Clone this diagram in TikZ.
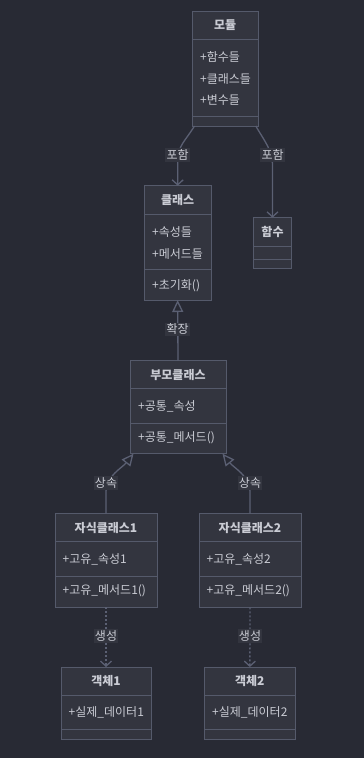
\documentclass[tikz,border=0pt]{standalone}
\usepackage{fontspec}
\setmainfont{Noto Sans CJK KR}
\usetikzlibrary{arrows.meta,calc}
\definecolor{bg}{HTML}{282A34}
\definecolor{boxfill}{HTML}{33353F}
\definecolor{boxline}{HTML}{555A6B}
\definecolor{txt}{HTML}{CACCD4}
\definecolor{edgec}{HTML}{5B6073}
\definecolor{lblbg}{HTML}{33353F}
\tikzset{
  x=1pt,y=-1pt,
  box/.style={draw=boxline,fill=boxfill,line width=1pt,rectangle,inner sep=0pt,outer sep=0pt},
  sepline/.style={draw=boxline,line width=1pt},
  ttl/.style={text=txt,font=\fontsize{12}{14}\selectfont\bfseries,inner sep=0pt,anchor=center},
  mem/.style={text=txt,font=\fontsize{12}{14}\selectfont,inner sep=0pt,anchor=west},
  lbl/.style={text=txt,font=\fontsize{12}{14}\selectfont,fill=lblbg,inner sep=1.2pt,anchor=center},
  edgeline/.style={draw=edgec,line width=1.3pt},
  assoc/.style={edgeline,-{Straight Barb[length=5pt,width=11pt,line width=1.3pt]}},
  inherit/.style={edgeline,-{Triangle[open,length=12pt,width=11pt,line width=1.3pt,fill=bg]}},
  dep/.style={edgeline,dash pattern=on 2pt off 2pt,-{Straight Barb[length=5pt,width=11pt,line width=1.3pt]}},
}
% name, x1, y1, x2, y2, sep1, sep2
\newcommand\classbox[7]{%
  \node[box,minimum width={(#4)-(#2)},minimum height={(#5)-(#3)}] (#1) at ({((#2)+(#4))/2},{((#3)+(#5))/2}) {};
  \draw[sepline] (#2,#6) -- (#4,#6);
  \draw[sepline] (#2,#7) -- (#4,#7);
}
\begin{document}
\begin{tikzpicture}
\fill[bg] (0,0) rectangle (364,758);
\useasboundingbox (0,0) rectangle (364,758);

% boxes
\classbox{mod}{192}{11.7}{258.3}{126}{39.3}{116.3}
\node[ttl] (modt) at (225.2,25.5) {모듈};
\node[mem] (moda1) at (200,57) {+함수들};
\node[mem] (moda2) at (200,79) {+클래스들};
\node[mem] (moda3) at (200,100) {+변수들};

\classbox{cls}{144.3}{185.7}{211}{300}{214.3}{269.3}
\node[ttl] (clst) at (177.7,200) {클래스};
\node[mem] (clsa1) at (152,232) {+속성들};
\node[mem] (clsa2) at (152,254) {+메서드들};
\node[mem] (clsm1) at (152,285.5) {+초기화()};

\classbox{fn}{253.3}{217.7}{291.7}{268.7}{246}{259}
\node[ttl] (fnt) at (272.5,232) {함수};

\classbox{par}{130}{360.7}{226}{453.7}{388.3}{423.3}
\node[ttl] (part) at (178,375.5) {부모클래스};
\node[mem] (para1) at (138,406.5) {+공통\_속성};
\node[mem] (parm1) at (138,437.5) {+공통\_메서드()};

\classbox{ca}{55}{513.7}{157}{607.3}{541.7}{576.7}
\node[ttl] (cat) at (106,528) {자식클래스1};
\node[mem] (caa1) at (62.5,559) {+고유\_속성1};
\node[mem] (cam1) at (62.5,591) {+고유\_메서드1()};

\classbox{cb}{199}{513.7}{301}{607.3}{541.7}{576.7}
\node[ttl] (cbt) at (250,528) {자식클래스2};
\node[mem] (cba1) at (206.5,559) {+고유\_속성2};
\node[mem] (cbm1) at (206.5,591) {+고유\_메서드2()};

\classbox{oa}{61}{667}{151}{739.3}{695}{729.3}
\node[ttl] (oat) at (106,681) {객체1};
\node[mem] (oaa1) at (68.5,712.5) {+실제\_데이터1};

\classbox{ob}{204.7}{667}{295}{739.3}{695}{729.3}
\node[ttl] (obt) at (249.8,681) {객체2};
\node[mem] (oba1) at (212,712.5) {+실제\_데이터2};

% connector end points
\coordinate (modL) at ($(mod.south west)+(2.5,0)$);
\coordinate (modR) at ($(mod.south east)+(-2.5,0)$);
\coordinate (parL) at ($(par.south west)+(3.5,0)$);
\coordinate (parR) at ($(par.south east)+(-3.5,0)$);

% connectors
\draw[assoc] (modL) .. controls (186,140) and (177.7,146) .. (177.7,160) -- (cls.north);
\draw[assoc] (modR) .. controls (265,142) and (272.5,150) .. (272.5,166) -- (fn.north);
\draw[inherit] (par.north) -- (cls.south);
\draw[inherit] (ca.north) -- (106,492) .. controls (106,476) and (122,468) .. (parL);
\draw[inherit] (cb.north) -- (250,492) .. controls (250,476) and (234,468) .. (parR);
\draw[dep] (ca.south) -- (oa.north);
\draw[dep] (cb.south) -- (ob.north);

% labels
\node[lbl] (l1) at (177.7,155) {포함};
\node[lbl] (l2) at (272.7,155) {포함};
\node[lbl] (l3) at (177.7,329.3) {확장};
\node[lbl] (l4) at (106,483) {상속};
\node[lbl] (l5) at (250,483) {상속};
\node[lbl] (l6) at (106,636) {생성};
\node[lbl] (l7) at (250,636) {생성};
\end{tikzpicture}
\end{document}
